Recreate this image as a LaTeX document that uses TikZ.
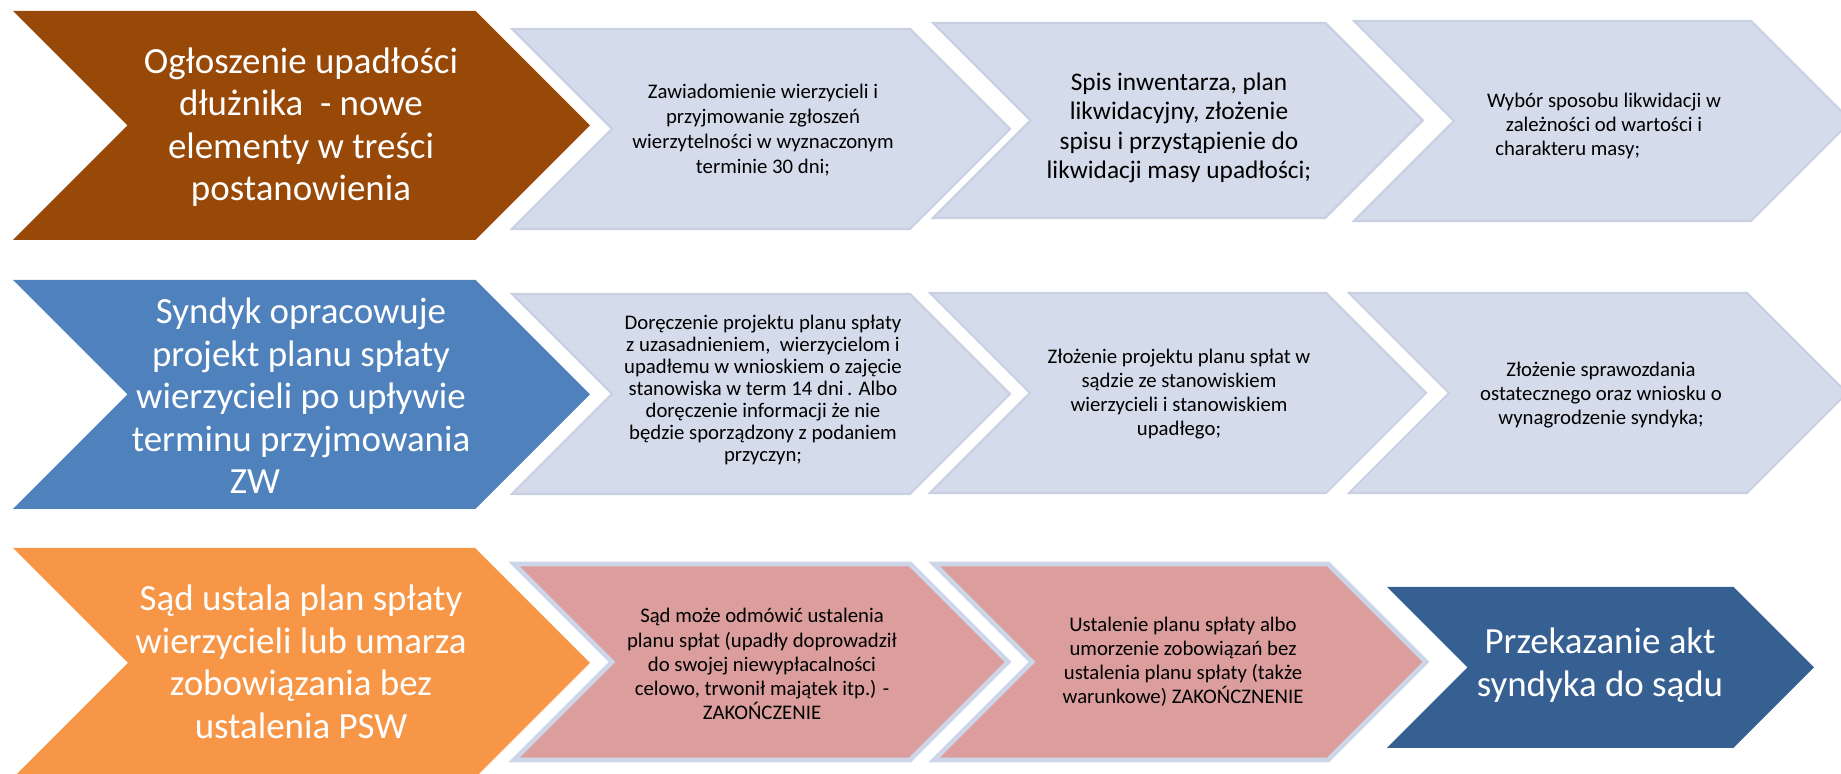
\documentclass[tikz,border=0pt]{standalone}
\usepackage{fontspec}
\setmainfont{Carlito}
\definecolor{brownc}{RGB}{152,72,7}
\definecolor{bluec}{RGB}{79,129,189}
\definecolor{orangec}{RGB}{247,150,70}
\definecolor{navyc}{RGB}{55,96,146}
\definecolor{lightc}{RGB}{212,219,234}
\definecolor{lightedge}{RGB}{200,208,226}
\definecolor{pinkc}{RGB}{219,158,157}
\definecolor{pinkedge}{RGB}{205,213,232}
% chevron: style, left x, top y, width (with tip), height
\newcommand{\chevshape}[5]{%
  \path[#1] (#2,#3) -- ++({#4-#5/2},0) -- ++({#5/2},{#5/2}) -- ++({-#5/2},{#5/2})
    -- ++({-#4+#5/2},0) -- ++({#5/2},{-#5/2}) -- cycle;}
\tikzset{
  brownbox/.style={fill=brownc},
  bluebox/.style={fill=bluec},
  orangebox/.style={fill=orangec},
  navybox/.style={fill=navyc},
  lightbox/.style={fill=lightc,draw=lightedge,line width=0.6pt},
  pinkbox/.style={fill=pinkc,draw=pinkedge,line width=1.4pt},
  bigtxt/.style={text=white,align=center,font=\fontsize{10.5pt}{12.1pt}\selectfont},
  smalltxt/.style={text=black,align=center,font=\fontsize{5.9pt}{6.85pt}\selectfont},
}
\begin{document}
\begin{tikzpicture}[x=0.01cm,y=-0.01cm]
  \clip (0,0) rectangle (1841,774);
  % row 1
  \chevshape{brownbox}{13}{11}{577}{229}
  \chevshape{lightbox}{512}{29}{498}{200}
  \chevshape{lightbox}{933}{23}{490}{195}
  \chevshape{lightbox}{1354}{21}{497}{200}
  \node[bigtxt] (ogl) at (301,127) {Ogłoszenie upadłości\\dłużnika\ \ - nowe\\elementy w treści\\postanowienia};
  \node[smalltxt,font=\fontsize{5.9pt}{7.1pt}\selectfont] (zaw) at (763,130)
    {Zawiadomienie wierzycieli i\\przyjmowanie zgłoszeń\\wierzytelności w wyznaczonym\\terminie 30 dni;};
  \node[smalltxt,font=\fontsize{7.2pt}{8.4pt}\selectfont] (spis) at (1179,128)
    {Spis inwentarza, plan\\likwidacyjny, złożenie\\spisu i przystąpienie do\\likwidacji masy upadłości;};
  \node[smalltxt] (wyb) at (1604,126)
    {Wybór sposobu likwidacji w\\zależności od wartości i\\charakteru masy;\hspace*{3.5em}};
  % row 2
  \chevshape{bluebox}{13}{280}{577}{229}
  \chevshape{lightbox}{512}{294}{498}{200}
  \chevshape{lightbox}{930}{293}{496}{200}
  \chevshape{lightbox}{1349}{293}{498}{200}
  \node[bigtxt] (synd) at (301,396) {Syndyk opracowuje\\projekt planu spłaty\\wierzycieli po upływie\\terminu przyjmowania\\ZW\hspace*{2.5em}};
  \node[smalltxt,font=\fontsize{5.9pt}{6.3pt}\selectfont] (dor) at (763,390)
    {Doręczenie projektu planu spłaty\\z uzasadnieniem,\ \ wierzycielom i\\upadłemu w wnioskiem o zajęcie\\stanowiska w term 14 dni\,. Albo\\doręczenie informacji że nie\\będzie sporządzony z podaniem\\przyczyn;};
  \node[smalltxt] (zloz) at (1179,394)
    {Złożenie projektu planu spłat w\\sądzie ze stanowiskiem\\wierzycieli i stanowiskiem\\upadłego;};
  \node[smalltxt] (spraw) at (1601,395)
    {Złożenie sprawozdania\\ostatecznego oraz wniosku o\\wynagrodzenie syndyka;};
  % row 3
  \chevshape{orangebox}{13}{548}{577}{230}
  \chevshape{pinkbox}{514}{564}{494}{196}
  \chevshape{pinkbox}{934}{564}{492}{196}
  \chevshape{navybox}{1387}{587}{427}{161}
  \node[bigtxt] (sad) at (301,662) {Sąd ustala plan spłaty\\wierzycieli lub umarza\\zobowiązania bez\\ustalenia PSW};
  \node[smalltxt] (odm) at (762,664)
    {Sąd może odmówić ustalenia\\planu spłat (upadły doprowadził\\do swojej niewypłacalności\\celowo, trwonił majątek itp.) -\\ZAKOŃCZENIE};
  \node[smalltxt] (ust) at (1183,662)
    {Ustalenie planu spłaty albo\\umorzenie zobowiązań bez\\ustalenia planu spłaty (także\\warunkowe) ZAKOŃCZNENIE};
  \node[bigtxt] (przek) at (1600,665) {Przekazanie akt\\syndyka do sądu};
\end{tikzpicture}
\end{document}
